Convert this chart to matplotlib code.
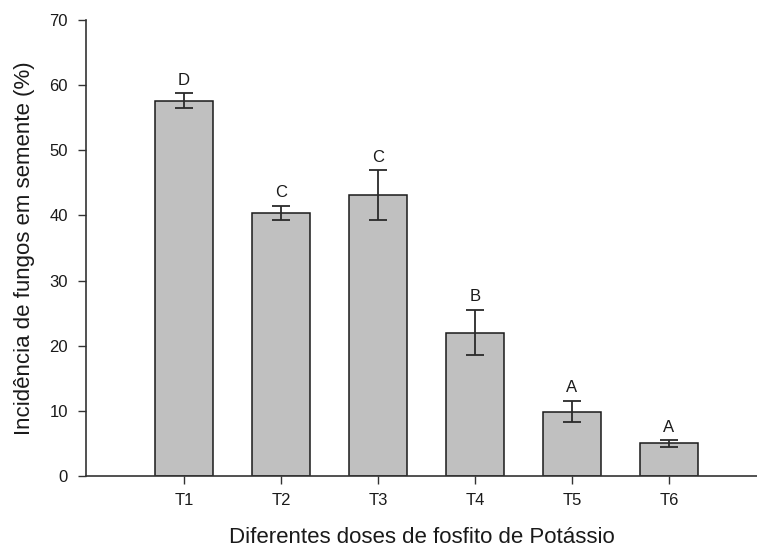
import matplotlib
matplotlib.use('Agg')
import matplotlib.pyplot as plt
import numpy as np

plt.rcParams['font.family'] = ['Liberation Sans', 'DejaVu Sans']

treatments = ['T1', 'T2', 'T3', 'T4', 'T5', 'T6']
incidence = [57.6, 40.4, 43.1, 22.0, 9.9, 5.0]
errors = [1.15, 1.1, 3.8, 3.5, 1.65, 0.5]
letters = ['D', 'C', 'C', 'B', 'A', 'A']

fig = plt.figure(figsize=(7.57, 5.47), dpi=100)
ax = fig.add_axes([0.1136, 0.1298, 0.8864, 0.8336])

x = np.arange(len(treatments))
ax.bar(x, incidence, width=0.59, color='#c0c0c0', edgecolor='#1a1a1a', linewidth=1.1)
ax.errorbar(x, incidence, yerr=errors, fmt='none', ecolor='#2a2a2a',
            elinewidth=1.3, capsize=6.5, capthick=1.3)

for xi, v, e, lab in zip(x, incidence, errors, letters):
    ax.annotate(lab, (xi, v + e), xytext=(0, 4), textcoords='offset points',
                ha='center', va='bottom', fontsize=12, color='#1a1a1a')

ax.set_xlim(-1.01, 5.907)
ax.set_ylim(0, 70)
ax.set_yticks(range(0, 71, 10))
ax.set_xticks(x)
ax.set_xticklabels(treatments)

for s in ['top', 'right']:
    ax.spines[s].set_visible(False)
for s in ['left', 'bottom']:
    ax.spines[s].set_color('#333333')
    ax.spines[s].set_linewidth(1.2)
ax.tick_params(direction='out', length=6, width=1, color='#333333',
               labelsize=12, labelcolor='#1a1a1a')
ax.tick_params(axis='y', pad=7)
ax.tick_params(axis='x', pad=6)

ax.set_xlabel('Diferentes doses de fosfito de Potássio', fontsize=16, labelpad=14,
              color='#1a1a1a')
ax.set_ylabel('Incidência de fungos em semente (%)', fontsize=16, labelpad=10,
              color='#1a1a1a')

fig.savefig('out.png', dpi=100)
